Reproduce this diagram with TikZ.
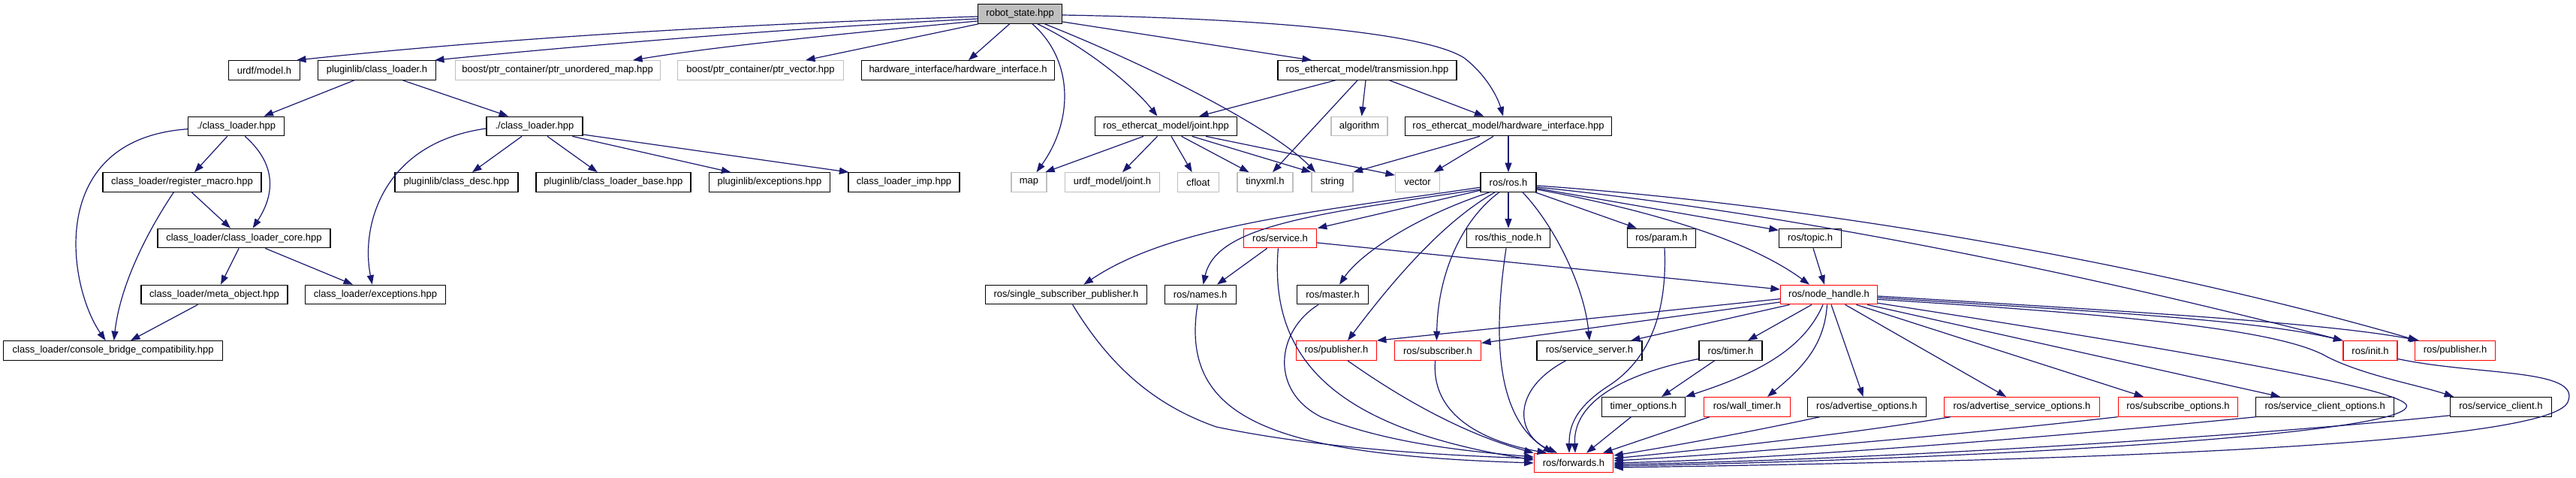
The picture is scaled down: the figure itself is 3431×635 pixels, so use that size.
\documentclass[tikz,border=0pt]{standalone}
\usepackage{fontspec}
\setmainfont{Liberation Sans}
\usetikzlibrary{arrows.meta}
\definecolor{edgeblue}{HTML}{191970}
\definecolor{extgray}{HTML}{BFBFBF}
\definecolor{truncred}{HTML}{FF0000}
\begin{document}
\begin{tikzpicture}[x=1pt,y=1pt,
  nbox/.style={draw=black, line width=1.2pt, rectangle, minimum height=25.6pt, inner sep=0pt, font=\fontsize{13}{15}\selectfont, text=black, fill=white},
  extbox/.style={nbox, draw=extgray},
  redbox/.style={nbox, draw=truncred},
  dep/.style={draw=edgeblue, line width=1.2pt, -{Triangle[length=12.5pt,width=9pt]}}]
\useasboundingbox[fill=white] (0,0) rectangle (3431,-635);
% row 0
\node[nbox, fill=extgray, minimum width=112pt] (robot) at (1358.6,-18.5) {robot\_state.hpp};
% row 1
\node[nbox, minimum width=95pt] (urdfmodel) at (352,-93.5) {urdf/model.h};
\node[nbox, minimum width=157pt] (pcl) at (502,-93.5) {pluginlib/class\_loader.h};
\node[extbox, minimum width=273pt] (pum) at (742.6,-93.5) {boost/ptr\_container/ptr\_unordered\_map.hpp};
\node[extbox, minimum width=220.5pt] (pvec) at (1013,-93.5) {boost/ptr\_container/ptr\_vector.hpp};
\node[nbox, minimum width=257pt] (hwi) at (1276,-93.5) {hardware\_interface/hardware\_interface.h};
\node[nbox, minimum width=238pt] (trans) at (1821,-93.5) {ros\_ethercat\_model/transmission.hpp};
% row 2
\node[nbox, minimum width=128pt] (cl1) at (314.7,-168) {./class\_loader.hpp};
\node[nbox, minimum width=128pt] (cl2) at (712,-168) {./class\_loader.hpp};
\node[nbox, minimum width=189pt] (joint) at (1553,-168) {ros\_ethercat\_model/joint.hpp};
\node[extbox, minimum width=75pt] (algo) at (1810.5,-168) {algorithm};
\node[nbox, minimum width=275pt] (rehw) at (2009,-168) {ros\_ethercat\_model/hardware\_interface.hpp};
% row 3
\node[nbox, minimum width=211pt] (regmac) at (242.5,-242.5) {class\_loader/register\_macro.hpp};
\node[nbox, minimum width=164pt] (cdesc) at (608,-242.5) {pluginlib/class\_desc.hpp};
\node[nbox, minimum width=206pt] (clbase) at (817,-242.5) {pluginlib/class\_loader\_base.hpp};
\node[nbox, minimum width=161pt] (pexc) at (1025,-242.5) {pluginlib/exceptions.hpp};
\node[nbox, minimum width=148pt] (climp) at (1204,-242.5) {class\_loader\_imp.hpp};
\node[extbox, minimum width=47pt] (map) at (1370.5,-242.5) {map};
\node[extbox, minimum width=126pt] (ujoint) at (1481.5,-242.5) {urdf\_model/joint.h};
\node[extbox, minimum width=55pt] (cfloat) at (1596,-242.5) {cfloat};
\node[extbox, minimum width=74pt] (tinyxml) at (1685,-242.5) {tinyxml.h};
\node[extbox, minimum width=55pt] (string) at (1774.4,-242.5) {string};
\node[extbox, minimum width=59pt] (vector) at (1888,-242.5) {vector};
\node[nbox, minimum width=74pt] (ros) at (2009,-242.5) {ros/ros.h};
% row 4
\node[nbox, minimum width=230pt] (core) at (325,-317) {class\_loader/class\_loader\_core.hpp};
\node[redbox, minimum width=97pt] (service) at (1705,-317) {ros/service.h};
\node[nbox, minimum width=111pt] (thisnode) at (2009,-317) {ros/this\_node.h};
\node[nbox, minimum width=91pt] (param) at (2213,-317) {ros/param.h};
\node[nbox, minimum width=83pt] (topic) at (2411,-317) {ros/topic.h};
% row 5
\node[nbox, minimum width=195pt] (meta) at (285.5,-392) {class\_loader/meta\_object.hpp};
\node[nbox, minimum width=187pt] (clexc) at (500,-392) {class\_loader/exceptions.hpp};
\node[nbox, minimum width=215pt] (ssp) at (1420,-392) {ros/single\_subscriber\_publisher.h};
\node[nbox, minimum width=95pt] (names) at (1598.6,-392) {ros/names.h};
\node[nbox, minimum width=95pt] (master) at (1775,-392) {ros/master.h};
\node[redbox, minimum width=129pt] (nh) at (2436,-392) {ros/node\_handle.h};
% row 6
\node[nbox, minimum width=291.6pt] (cbc) at (150.6,-466.5) {class\_loader/console\_bridge\_compatibility.hpp};
\node[redbox, minimum width=106.6pt] (pub) at (1780,-466.5) {ros/publisher.h};
\node[redbox, minimum width=115pt] (sub) at (1915,-466.5) {ros/subscriber.h};
\node[nbox, minimum width=140pt] (ssrv) at (2117,-466.5) {ros/service\_server.h};
\node[nbox, minimum width=84pt] (timer) at (2305,-466.5) {ros/timer.h};
\node[redbox, minimum width=72pt] (init) at (3157,-466.5) {ros/init.h};
\node[redbox, minimum width=106.6pt] (pubb) at (3270,-466.5) {ros/publisher.h};
% row 7
\node[nbox, minimum width=110.6pt] (topt) at (2189,-541.3) {timer\_options.h};
\node[redbox, minimum width=114.6pt] (wtimer) at (2327,-541.3) {ros/wall\_timer.h};
\node[nbox, minimum width=157.6pt] (aopt) at (2486.4,-541.3) {ros/advertise\_options.h};
\node[redbox, minimum width=207.5pt] (asopt) at (2693,-541.3) {ros/advertise\_service\_options.h};
\node[redbox, minimum width=159.7pt] (sopt) at (2901,-541.3) {ros/subscribe\_options.h};
\node[nbox, minimum width=184pt] (scopt) at (3096.7,-541.3) {ros/service\_client\_options.h};
\node[nbox, minimum width=134.7pt] (sclient) at (3331,-541.3) {ros/service\_client.h};
% row 8
\node[redbox, minimum width=105.5pt] (fwd) at (2096,-616) {ros/forwards.h};

% robot_state edges
\draw[dep] ([yshift=-3.5]robot.west) .. controls (900,-35) and (600,-58) .. ([xshift=43]urdfmodel.north);
\draw[dep] ([yshift=-6.5]robot.west) .. controls (1000,-40) and (700,-68) .. ([xshift=77]pcl.north);
\draw[dep] ([yshift=-9.5]robot.west) .. controls (1150,-42) and (950,-62) .. ([xshift=100.4]pum.north);
\draw[dep] ([xshift=1]robot.south west) -- ([xshift=60]pvec.north);
\draw[dep] ([xshift=-14]robot.south) -- ([xshift=14]hwi.north);
\draw[dep] ([xshift=16.4]robot.south) .. controls (1430,-80) and (1430,-160) .. ([xshift=10]map.north);
\draw[dep] ([xshift=23.4]robot.south) .. controls (1450,-65) and (1510,-115) .. ([xshift=-11.5]joint.north);
\draw[dep] ([xshift=33]robot.south) .. controls (1550,-95) and (1700,-175) .. ([xshift=-22.4]string.north);
\draw[dep] ([yshift=-10.5]robot.east) -- ([xshift=-74]trans.north);
\draw[dep] ([yshift=-1.5]robot.east) .. controls (1700,-25) and (1900,-45) .. (1950,-77) .. controls (1980,-100) and (1995,-130) .. ([xshift=-7]rehw.north);
% pluginlib
\draw[dep] ([xshift=-30.3]pcl.south) -- ([xshift=36.8]cl1.north);
\draw[dep] ([xshift=34.5]pcl.south) -- ([xshift=-35]cl2.north);
\draw[dep] ([xshift=-12]cl1.south) -- ([xshift=16.5]regmac.north);
\draw[dep] ([xshift=11.6]cl1.south) .. controls (370,-220) and (365,-260) .. ([xshift=11.7]core.north);
\draw[dep] ([yshift=-3.7]cl1.west) .. controls (60,-185) and (90,-380) .. ([xshift=-10]cbc.north);
\draw[dep] ([xshift=12.8]regmac.south) -- ([xshift=-18]core.north);
\draw[dep] ([xshift=-11.2]regmac.south) .. controls (195,-310) and (160,-380) .. ([xshift=1.1]cbc.north);
\draw[dep] ([xshift=-6.8]core.south) -- ([xshift=8.5]meta.north);
\draw[dep] ([xshift=28.3]core.south) -- ([xshift=-30]clexc.north);
\draw[dep] ([xshift=-22.1]meta.south) -- ([xshift=23.4]cbc.north);
\draw[dep] ([yshift=-3]cl2.west) .. controls (510,-190) and (480,-300) .. ([xshift=-4.2]clexc.north);
\draw[dep] ([xshift=-17]cl2.south) -- ([xshift=21]cdesc.north);
\draw[dep] ([xshift=17]cl2.south) -- ([xshift=-21.3]clbase.north);
\draw[dep] ([xshift=50.4]cl2.south) -- ([xshift=-51.7]pexc.north);
\draw[dep] ([yshift=-11]cl2.east) -- ([xshift=1]climp.north west);
% joint / transmission / hardware interface
\draw[dep] ([xshift=-30]joint.south) -- ([xshift=-2.4]map.north east);
\draw[dep] ([xshift=-11.5]joint.south) -- ([xshift=13.5]ujoint.north);
\draw[dep] ([xshift=7]joint.south) -- ([xshift=-8.3]cfloat.north);
\draw[dep] ([xshift=20.6]joint.south) -- ([xshift=-21.5]tinyxml.north);
\draw[dep] ([xshift=34.7]joint.south) -- (string.north west);
\draw[dep] ([xshift=53]joint.south) -- ([yshift=-4]vector.north west);
\draw[dep] ([xshift=-42.6]trans.south) -- ([xshift=44]joint.north);
\draw[dep] ([xshift=-13]trans.south) -- ([xshift=10]tinyxml.north);
\draw[dep] ([xshift=-2]trans.south) -- ([xshift=3.1]algo.north);
\draw[dep] ([xshift=29.6]trans.south) -- ([xshift=-32.6]rehw.north);
\draw[dep] ([xshift=-38.1]rehw.south) -- (string.north east);
\draw[dep] ([xshift=-20]rehw.south) -- ([xshift=21.8]vector.north);
\draw[dep] (rehw.south) -- (ros.north);
% ros.h
\draw[dep] ([yshift=-10.8]ros.west) -- ([xshift=0.7]service.north east);
\draw[dep] (ros.south) -- (thisnode.north);
\draw[dep] ([xshift=35.9]ros.south) -- ([xshift=-33.1]param.north);
\draw[dep] ([yshift=-8]ros.east) -- ([yshift=-2.8]topic.north west);
\draw[dep] ([yshift=-9.5]ros.east) .. controls (2200,-280) and (2330,-320) .. ([xshift=-26]nh.north);
\draw[dep] ([yshift=-6.8]ros.west) .. controls (1750,-282) and (1560,-300) .. ([xshift=23.4]ssp.north);
\draw[dep] ([yshift=-9.5]ros.west) .. controls (1750,-285) and (1620,-300) .. ([xshift=3.9]names.north);
\draw[dep] ([xshift=-25.2]ros.south) .. controls (1880,-290) and (1810,-340) .. ([xshift=9]master.north);
\draw[dep] ([xshift=-18]ros.south) .. controls (1940,-285) and (1880,-340) .. ([xshift=15]pub.north);
\draw[dep] ([xshift=-12.2]ros.south) .. controls (1950,-290) and (1915,-360) .. ([xshift=-1.5]sub.north);
\draw[dep] ([xshift=19]ros.south) .. controls (2070,-300) and (2110,-380) .. (ssrv.north);
\draw[dep] ([yshift=-6.5]ros.east) .. controls (2400,-285) and (2800,-370) .. (init.north west);
\draw[dep] ([yshift=-4.5]ros.east) .. controls (2450,-275) and (2900,-360) .. ([xshift=-50]pubb.north);
% service.h, topic.h
\draw[dep] ([xshift=-17.4]service.south) -- ([xshift=22.4]names.north);
\draw[dep] ([xshift=-2.6]service.south) .. controls (1690,-480) and (1780,-570) .. ([yshift=4]fwd.west);
\draw[dep] ([yshift=-6]service.east) -- ([yshift=7]nh.west);
\draw[dep] ([xshift=4]topic.south) -- ([xshift=-6]nh.north);
% into forwards.h
\draw[dep] ([xshift=8.6]ssp.south) .. controls (1480,-490) and (1540,-540) .. (1620,-568) .. controls (1750,-595) and (1900,-605) .. ([yshift=6]fwd.west);
\draw[dep] ([xshift=-3.6]names.south) .. controls (1570,-560) and (1700,-605) .. (fwd.west);
\draw[dep] ([xshift=-19]master.south) .. controls (1700,-440) and (1690,-520) .. (1760,-555) .. controls (1850,-590) and (1950,-600) .. ([yshift=8]fwd.west);
\draw[dep] ([xshift=-3]thisnode.south) .. controls (1985,-470) and (2000,-560) .. ([xshift=-28]fwd.north);
\draw[dep] ([xshift=15]pub.south) .. controls (1880,-540) and (1960,-580) .. (fwd.north west);
\draw[dep] ([xshift=-3.4]sub.south) .. controls (1905,-560) and (1990,-590) .. ([xshift=-36]fwd.north);
\draw[dep] ([xshift=-31.5]ssrv.south) .. controls (2010,-520) and (2020,-580) .. ([xshift=-22]fwd.north);
\draw[dep] ([xshift=4]param.south) .. controls (2222,-440) and (2180,-490) .. (2140,-515) .. controls (2095,-545) and (2090,-570) .. ([xshift=-6]fwd.north);
\draw[dep] ([yshift=-11]timer.west) .. controls (2150,-500) and (2095,-540) .. ([xshift=2]fwd.north);
\draw[dep] ([xshift=-21.5]timer.south) -- ([xshift=24]topt.north);
\draw[dep] ([xshift=-16.5]topt.south) -- ([xshift=17]fwd.north);
\draw[dep] ([xshift=8]wtimer.south west) -- ([xshift=39]fwd.north);
\draw[dep] ([xshift=-62.4]aopt.south) .. controls (2330,-575) and (2220,-595) .. ([yshift=10]fwd.east);
\draw[dep] ([xshift=-95]asopt.south) .. controls (2450,-580) and (2250,-600) .. ([yshift=6]fwd.east);
\draw[dep] (sopt.south west) .. controls (2600,-580) and (2300,-605) .. ([yshift=3]fwd.east);
\draw[dep] ([xshift=1]scopt.south west) .. controls (2800,-575) and (2400,-610) .. (fwd.east);
\draw[dep] ([yshift=-11.5]sclient.west) .. controls (3000,-580) and (2500,-612) .. ([yshift=-2]fwd.east);
\draw[dep] ([yshift=-11.3]nh.east) .. controls (2900,-465) and (3220,-520) .. (3205,-541.7) .. controls (3190,-580) and (2600,-612) .. ([yshift=-4]fwd.east);
\draw[dep] ([yshift=-11]init.east) .. controls (3300,-500) and (3440,-490) .. (3420,-535) .. controls (3400,-580) and (3000,-610) .. ([yshift=-6]fwd.east);
% node_handle.h
\draw[dep] ([yshift=-5.7]nh.west) -- (pub.north east);
\draw[dep] ([yshift=-10]nh.west) -- ([yshift=-3.3]sub.north east);
\draw[dep] ([xshift=-52.4]nh.south) -- ([xshift=55]ssrv.north);
\draw[dep] ([xshift=-23]nh.south) -- ([xshift=23]timer.north);
\draw[dep] ([xshift=-8]nh.south) .. controls (2400,-470) and (2330,-500) .. (topt.north east);
\draw[dep] ([xshift=-2.5]nh.south) .. controls (2430,-460) and (2400,-490) .. ([xshift=27]wtimer.north);
\draw[dep] ([xshift=3]nh.south) -- ([xshift=-4.8]aopt.north);
\draw[dep] ([xshift=21.6]nh.south) -- ([xshift=-21]asopt.north);
\draw[dep] ([xshift=36.4]nh.south) -- ([xshift=-46]sopt.north);
\draw[dep] ([xshift=51]nh.south) -- ([xshift=-59.7]scopt.north);
\draw[dep] ([yshift=-6.3]nh.east) .. controls (2850,-420) and (3040,-440) .. (3100,-475) .. controls (3150,-500) and (3220,-512) .. ([xshift=-63]sclient.north);
\draw[dep] ([yshift=-4]nh.east) .. controls (2800,-415) and (3000,-425) .. (init.north west);
\draw[dep] ([yshift=-2]nh.east) .. controls (2850,-415) and (3100,-430) .. ([xshift=-48]pubb.north);
\end{tikzpicture}
\end{document}
